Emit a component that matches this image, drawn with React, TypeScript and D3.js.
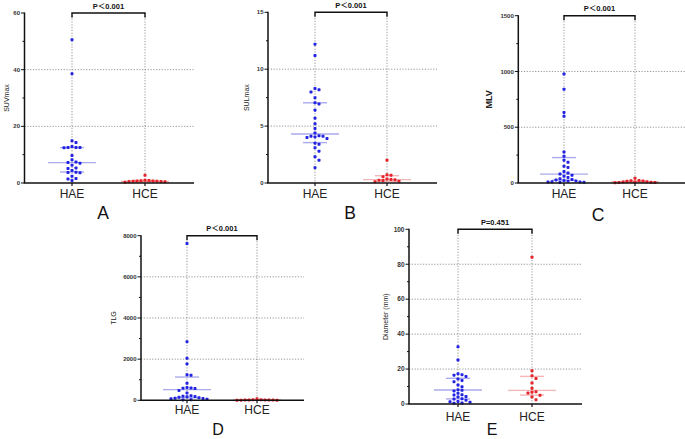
import React from "react";
import * as d3 from "d3";

const categories = ["HAE", "HCE"];
const panelLetters = ["A", "B", "C", "D", "E"];
const axisTitles = ["SUVmax", "SULmax", "MLV", "TLG", "Diameter (mm)"];
const pLabels = ["P＜0.001", "P＜0.001", "P＜0.001", "P＜0.001", "P=0.451"];

// A: SUVmax
const suvmaxHAE = [50.6, 38.6, 14.9, 14.3, 12.9, 12.5, 12.5, 12.5, 12.4, 9.7, 8.2, 7.4, 7.2, 7.0, 6.3, 5.3, 5.1, 4.4, 3.8, 3.7, 3.6, 2.4, 1.6, 1.4, 0.9];
const suvmaxHCE = [2.7, 1.0, 0.9, 0.8, 0.7, 0.7, 0.6, 0.6, 0.5, 0.5, 0.4, 0.3];
const suvmaxStats = { HAE: [3.9, 7.2, 12.5], HCE: [0.4, 0.55, 0.9] };
const suvmaxTicks = [0, 20, 40, 60];

// B: SULmax
const sulmaxHAE = [12.2, 11.2, 8.3, 8.2, 8.0, 7.5, 7.05, 6.95, 6.4, 5.7, 5.2, 4.8, 4.4, 4.15, 4.1, 4.1, 4.05, 4.0, 3.9, 3.5, 3.4, 3.1, 2.8, 2.3, 2.0, 1.35];
const sulmaxHCE = [2.0, 0.72, 0.68, 0.55, 0.35, 0.3, 0.28, 0.25, 0.22, 0.15, 0.12];
const sulmaxStats = { HAE: [3.55, 4.3, 7.05], HCE: [0.15, 0.3, 0.64] };
const sulmaxTicks = [0, 5, 10, 15];

// C: MLV
const mlvHAE = [977, 840, 633, 598, 278, 240, 205, 185, 150, 140, 102, 90, 80, 70, 60, 50, 38, 32, 28, 22, 18, 15, 12, 10, 8, 6, 5];
const mlvHCE = [42, 22, 20, 18, 15, 12, 10, 8, 6, 5, 4, 3];
const mlvStats = { HAE: [25, 80, 228], HCE: [5, 10, 18] };
const mlvTicks = [0, 500, 1000, 1500];

// D: TLG
const tlgHAE = [7620, 2850, 2040, 1770, 1240, 1220, 830, 620, 600, 590, 570, 480, 350, 220, 200, 180, 170, 150, 120, 100, 90, 70, 50, 30, 20];
const tlgHCE = [80, 30, 25, 20, 18, 15, 12, 10, 8, 6, 3];
const tlgStats = { HAE: [120, 520, 1130], HCE: [6, 12, 20] };
const tlgTicks = [0, 2000, 4000, 6000, 8000];

// E: Diameter
const diamHAE = [32.8, 25.2, 17.3, 16.8, 16.5, 15.8, 14.3, 13.5, 12.8, 10.9, 9.9, 8.2, 7.8, 7.5, 6.1, 5.3, 5.1, 4.3, 4.0, 3.0, 2.8, 2.2, 1.5, 1.3, 1.0, 0.6, 0.4];
const diamHCE = [84, 19, 16.2, 14.6, 12, 9, 7, 6.7, 6.3, 5, 4, 2.5];
const diamStats = { HAE: [2.9, 8.0, 14.7], HCE: [5.1, 7.8, 15.8] };
const diamTicks = [0, 20, 40, 60, 80, 100];

const panelData = [
  { hae: suvmaxHAE, hce: suvmaxHCE, stats: suvmaxStats, ticks: suvmaxTicks },
  { hae: sulmaxHAE, hce: sulmaxHCE, stats: sulmaxStats, ticks: sulmaxTicks },
  { hae: mlvHAE, hce: mlvHCE, stats: mlvStats, ticks: mlvTicks },
  { hae: tlgHAE, hce: tlgHCE, stats: tlgStats, ticks: tlgTicks },
  { hae: diamHAE, hce: diamHCE, stats: diamStats, ticks: diamTicks },
];

// layout (positions only)
const layouts = [
  { left: 24.5, right: 194, top: 13, bottom: 183, x0: 72, x1: 145, lx: 103, ly: 218.5, tx: 8.5, titleSize: 7, titleBold: false, catDy: 15 },
  { left: 268, right: 437, top: 12.3, bottom: 183, x0: 315, x1: 387, lx: 350, ly: 219, tx: 248.5, titleSize: 7, titleBold: false, catDy: 15 },
  { left: 518.3, right: 685, top: 15.7, bottom: 183, x0: 564, x1: 635, lx: 598, ly: 221, tx: 491.5, titleSize: 9, titleBold: true, catDy: 15 },
  { left: 141, right: 304, top: 235.7, bottom: 400.3, x0: 187, x1: 257, lx: 218, ly: 435, tx: 115.5, titleSize: 7, titleBold: false, catDy: 13.5 },
  { left: 409, right: 582, top: 229.3, bottom: 404, x0: 458, x1: 532, lx: 492, ly: 435, tx: 387.5, titleSize: 7, titleBold: false, catDy: 16.5 },
];

const BLUE = "#2323e2";
const RED = "#e6242b";
const BLUE_LINE = "rgba(100,100,220,0.55)";
const RED_LINE = "rgba(230,110,110,0.5)";
const FONT = "'Liberation Sans', Arial, 'Noto Sans CJK SC', sans-serif";

function swarm(values: number[], cx: number, y: (v: number) => number, step = 4, minDist = 3.6) {
  const placed: { x: number; y: number }[] = [];
  const sorted = values.slice().sort((a, b) => b - a);
  for (const v of sorted) {
    const py = y(v);
    for (let k = 0; k < 60; k++) {
      const off = k === 0 ? 0 : (k % 2 === 1 ? 1 : -1) * Math.ceil(k / 2) * step;
      const px = cx + off;
      if (placed.every((p) => Math.hypot(p.x - px, p.y - py) >= minDist)) {
        placed.push({ x: px, y: py });
        break;
      }
    }
  }
  return placed;
}

function Panel({ idx }: { idx: number }) {
  const d = panelData[idx];
  const L = layouts[idx];
  const max = d.ticks[d.ticks.length - 1];
  const step = d.ticks[1] - d.ticks[0];
  const y = d3.scaleLinear().domain([0, max]).range([L.bottom, L.top]);
  const x = d3.scalePoint<string>().domain(categories).range([L.x0, L.x1]);
  const minor = d3.range(step / 2, max, step);
  const grid = d.ticks.filter((t) => t > 0 && t < max);
  const groups = [
    { cat: "HAE", vals: d.hae, color: BLUE, line: BLUE_LINE, st: d.stats.HAE },
    { cat: "HCE", vals: d.hce, color: RED, line: RED_LINE, st: d.stats.HCE },
  ];
  const xa = x("HAE")!;
  const xb = x("HCE")!;
  return (
    <g>
      {grid.map((t) => (
        <line key={"g" + t} x1={L.left} x2={L.right} y1={y(t)} y2={y(t)} stroke="#8a8a8a" strokeWidth={0.9} strokeDasharray="1.2,1.6" />
      ))}
      {categories.map((c) => (
        <line key={"v" + c} x1={x(c)} x2={x(c)} y1={L.top} y2={L.bottom} stroke="#8a8a8a" strokeWidth={0.9} strokeDasharray="1.2,1.6" />
      ))}
      {groups.map((g) => (
        <g key={"s" + g.cat}>
          <line x1={x(g.cat)! - 12} x2={x(g.cat)! + 12} y1={y(g.st[0])} y2={y(g.st[0])} stroke={g.line} strokeWidth={1.4} />
          <line x1={x(g.cat)! - 24} x2={x(g.cat)! + 24} y1={y(g.st[1])} y2={y(g.st[1])} stroke={g.line} strokeWidth={1.4} />
          <line x1={x(g.cat)! - 12} x2={x(g.cat)! + 12} y1={y(g.st[2])} y2={y(g.st[2])} stroke={g.line} strokeWidth={1.4} />
        </g>
      ))}
      {groups.map((g) =>
        swarm(g.vals, x(g.cat)!, y).map((p, i) => (
          <rect key={g.cat + i} x={p.x - 1.5} y={p.y - 1.5} width={3} height={3} rx={0.8} fill={g.color} />
        ))
      )}
      <line x1={L.left} x2={L.left} y1={L.top - 0.5} y2={L.bottom} stroke="#111" strokeWidth={1.5} />
      {d.ticks.map((t) => (
        <g key={"t" + t}>
          <line x1={L.left - 3.5} x2={L.left} y1={y(t)} y2={y(t)} stroke="#111" strokeWidth={1} />
          <text x={L.left - 4.5} y={y(t)} dy="0.35em" textAnchor="end" fontSize={idx === 4 ? 6.5 : 6} fontWeight="bold" fill="#333" fontFamily={FONT}>
            {t}
          </text>
        </g>
      ))}
      {minor.map((t) => (
        <line key={"m" + t} x1={L.left - 2} x2={L.left} y1={y(t)} y2={y(t)} stroke="#111" strokeWidth={1} />
      ))}
      <line x1={L.left - 0.75} x2={L.right} y1={L.bottom} y2={L.bottom} stroke="#111" strokeWidth={1.6} />
      {categories.map((c) => (
        <g key={"c" + c}>
          <line x1={x(c)} x2={x(c)} y1={L.bottom} y2={L.bottom + 3} stroke="#111" strokeWidth={1.2} />
          <text x={x(c)} y={L.bottom + L.catDy} textAnchor="middle" fontSize={12} fill="#222" fontFamily={FONT}>
            {c}
          </text>
        </g>
      ))}
      <text transform={`translate(${L.tx},${(L.top + L.bottom) / 2}) rotate(-90)`} textAnchor="middle" fontSize={L.titleSize} fontWeight={L.titleBold ? "bold" : "normal"} fill="#222" fontFamily={FONT}>
        {axisTitles[idx]}
      </text>
      <path d={`M${xa},${L.top + 4.5}V${L.top}H${xb}V${L.top + 4.5}`} fill="none" stroke="#111" strokeWidth={1.4} />
      <text x={(xa + xb) / 2} y={L.top - 4.5} textAnchor="middle" fontSize={7.5} fontWeight="bold" fill="#111" fontFamily={FONT}>
        {pLabels[idx]}
      </text>
      <text x={L.lx} y={L.ly} textAnchor="middle" fontSize={idx >= 3 ? 16 : 17.5} fill="#111" fontFamily={FONT}>
        {panelLetters[idx]}
      </text>
    </g>
  );
}

export default function App() {
  return (
    <svg width={685} height={439} style={{ position: "absolute", left: 0, top: 0, background: "#fff" }}>
      <rect width={685} height={439} fill="#fff" />
      {panelData.map((_, i) => (
        <Panel key={i} idx={i} />
      ))}
    </svg>
  );
}
